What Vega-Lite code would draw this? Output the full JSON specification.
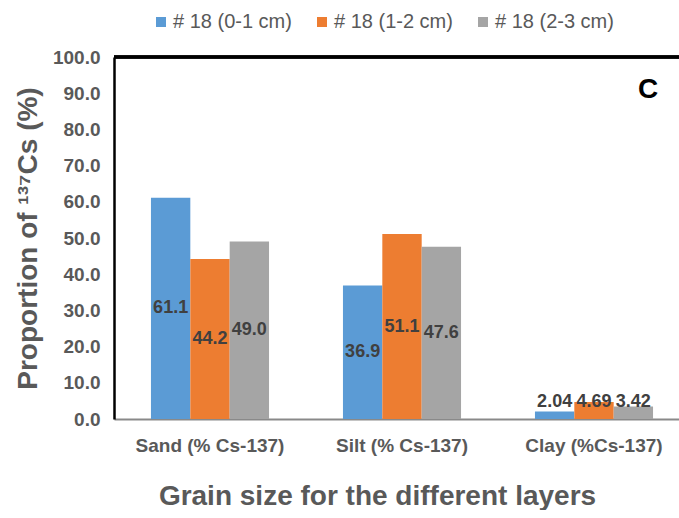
{
  "$schema": "https://vega.github.io/schema/vega-lite/v6.json",
  "width": 576,
  "height": 362,
  "padding": {"left": 14, "top": 12, "right": 0, "bottom": 0},
  "config": {
    "view": {"stroke": null},
    "font": "Liberation Sans",
    "axis": {"grid": false, "ticks": false, "labelFont": "Liberation Sans", "titleFont": "Liberation Sans"},
    "axisY": {
      "labelOverlap": false,
      "labelFontSize": 19,
      "labelFontWeight": "bold",
      "labelColor": "#595959",
      "labelPadding": 14,
      "domainColor": "#000000",
      "domainWidth": 2.5,
      "titleFontSize": 28,
      "titleFontWeight": "bold",
      "titleColor": "#595959",
      "titlePadding": 10
    },
    "axisX": {
      "labelAngle": 0,
      "labelFontSize": 19,
      "labelFontWeight": "bold",
      "labelColor": "#595959",
      "labelPadding": 17,
      "domainColor": "#898989",
      "domainWidth": 2,
      "titleFontSize": 28,
      "titleFontWeight": "bold",
      "titleColor": "#595959",
      "titlePadding": 27,
      "titleX": 263
    }
  },
  "datasets": {
    "bars": [
      {"grain": "Sand (% Cs-137)", "layer": "# 18 (0-1 cm)", "value": 61.1},
      {"grain": "Sand (% Cs-137)", "layer": "# 18 (1-2 cm)", "value": 44.2},
      {"grain": "Sand (% Cs-137)", "layer": "# 18 (2-3 cm)", "value": 49.0},
      {"grain": "Silt (% Cs-137)", "layer": "# 18 (0-1 cm)", "value": 36.9},
      {"grain": "Silt (% Cs-137)", "layer": "# 18 (1-2 cm)", "value": 51.1},
      {"grain": "Silt (% Cs-137)", "layer": "# 18 (2-3 cm)", "value": 47.6},
      {"grain": "Clay (%Cs-137)", "layer": "# 18 (0-1 cm)", "value": 2.04},
      {"grain": "Clay (%Cs-137)", "layer": "# 18 (1-2 cm)", "value": 4.69},
      {"grain": "Clay (%Cs-137)", "layer": "# 18 (2-3 cm)", "value": 3.42}
    ],
    "panel": [{"tag": "C"}]
  },
  "data": {"name": "bars"},
  "layer": [
    {
      "mark": {"type": "bar"},
      "encoding": {
        "x": {
          "field": "grain",
          "type": "nominal",
          "sort": ["Sand (% Cs-137)", "Silt (% Cs-137)", "Clay (%Cs-137)"],
          "scale": {"paddingInner": 0.385, "paddingOuter": 0.1925},
          "axis": {"title": "Grain size for the different layers"}
        },
        "xOffset": {"field": "layer", "type": "nominal", "scale": {"paddingInner": 0, "paddingOuter": 0}},
        "y": {
          "field": "value",
          "type": "quantitative",
          "scale": {"domain": [0, 100], "nice": false},
          "axis": {"values": [0, 10, 20, 30, 40, 50, 60, 70, 80, 90, 100], "format": ".1f", "title": "Proportion of ¹³⁷Cs (%)"}
        },
        "color": {
          "field": "layer",
          "type": "nominal",
          "scale": {"range": ["#5B9BD5", "#ED7D31", "#A5A5A5"]},
          "legend": {
            "title": null,
            "orient": "none",
            "direction": "horizontal",
            "legendX": 37,
            "legendY": -45,
            "symbolType": "square",
            "symbolSize": 100,
            "symbolStrokeWidth": 0,
            "labelFontSize": 20,
            "labelColor": "#595959",
            "labelFont": "Liberation Sans",
            "labelOffset": 2,
            "columnPadding": 20
          }
        }
      }
    },
    {
      "transform": [{"filter": "datum.grain !== 'Clay (%Cs-137)'"}, {"calculate": "datum.value / 2", "as": "mid"}],
      "mark": {"type": "text", "fontSize": 18, "fontWeight": "bold", "color": "#404040"},
      "encoding": {
        "x": {"field": "grain", "type": "nominal", "sort": ["Sand (% Cs-137)", "Silt (% Cs-137)", "Clay (%Cs-137)"], "axis": {"title": "Grain size for the different layers"}},
        "xOffset": {"field": "layer", "type": "nominal"},
        "y": {"field": "mid", "type": "quantitative", "axis": {"values": [0, 10, 20, 30, 40, 50, 60, 70, 80, 90, 100], "format": ".1f", "title": "Proportion of ¹³⁷Cs (%)"}},
        "text": {"field": "value", "type": "quantitative", "format": ".1f"}
      }
    },
    {
      "transform": [{"filter": "datum.grain === 'Clay (%Cs-137)'"}],
      "mark": {"type": "text", "fontSize": 18, "fontWeight": "bold", "color": "#404040"},
      "encoding": {
        "x": {"field": "grain", "type": "nominal", "sort": ["Sand (% Cs-137)", "Silt (% Cs-137)", "Clay (%Cs-137)"], "axis": {"title": "Grain size for the different layers"}},
        "xOffset": {"field": "layer", "type": "nominal"},
        "y": {"datum": 4.8, "type": "quantitative", "axis": {"values": [0, 10, 20, 30, 40, 50, 60, 70, 80, 90, 100], "format": ".1f", "title": "Proportion of ¹³⁷Cs (%)"}},
        "text": {"field": "value", "type": "quantitative", "format": ".2f"}
      }
    },
    {
      "mark": {"type": "rule", "color": "#000000", "strokeWidth": 2.5},
      "encoding": {"y": {"datum": 100, "type": "quantitative", "axis": {"values": [0, 10, 20, 30, 40, 50, 60, 70, 80, 90, 100], "format": ".1f", "title": "Proportion of ¹³⁷Cs (%)"}}}
    },
    {
      "data": {"name": "panel"},
      "mark": {"type": "text", "fontSize": 28, "fontWeight": "bold", "color": "#000000", "dx": 54},
      "encoding": {
        "x": {"datum": "Clay (%Cs-137)", "axis": {"title": "Grain size for the different layers"}},
        "y": {"datum": 91, "type": "quantitative", "axis": {"values": [0, 10, 20, 30, 40, 50, 60, 70, 80, 90, 100], "format": ".1f", "title": "Proportion of ¹³⁷Cs (%)"}},
        "text": {"field": "tag", "type": "nominal"}
      }
    }
  ]
}
